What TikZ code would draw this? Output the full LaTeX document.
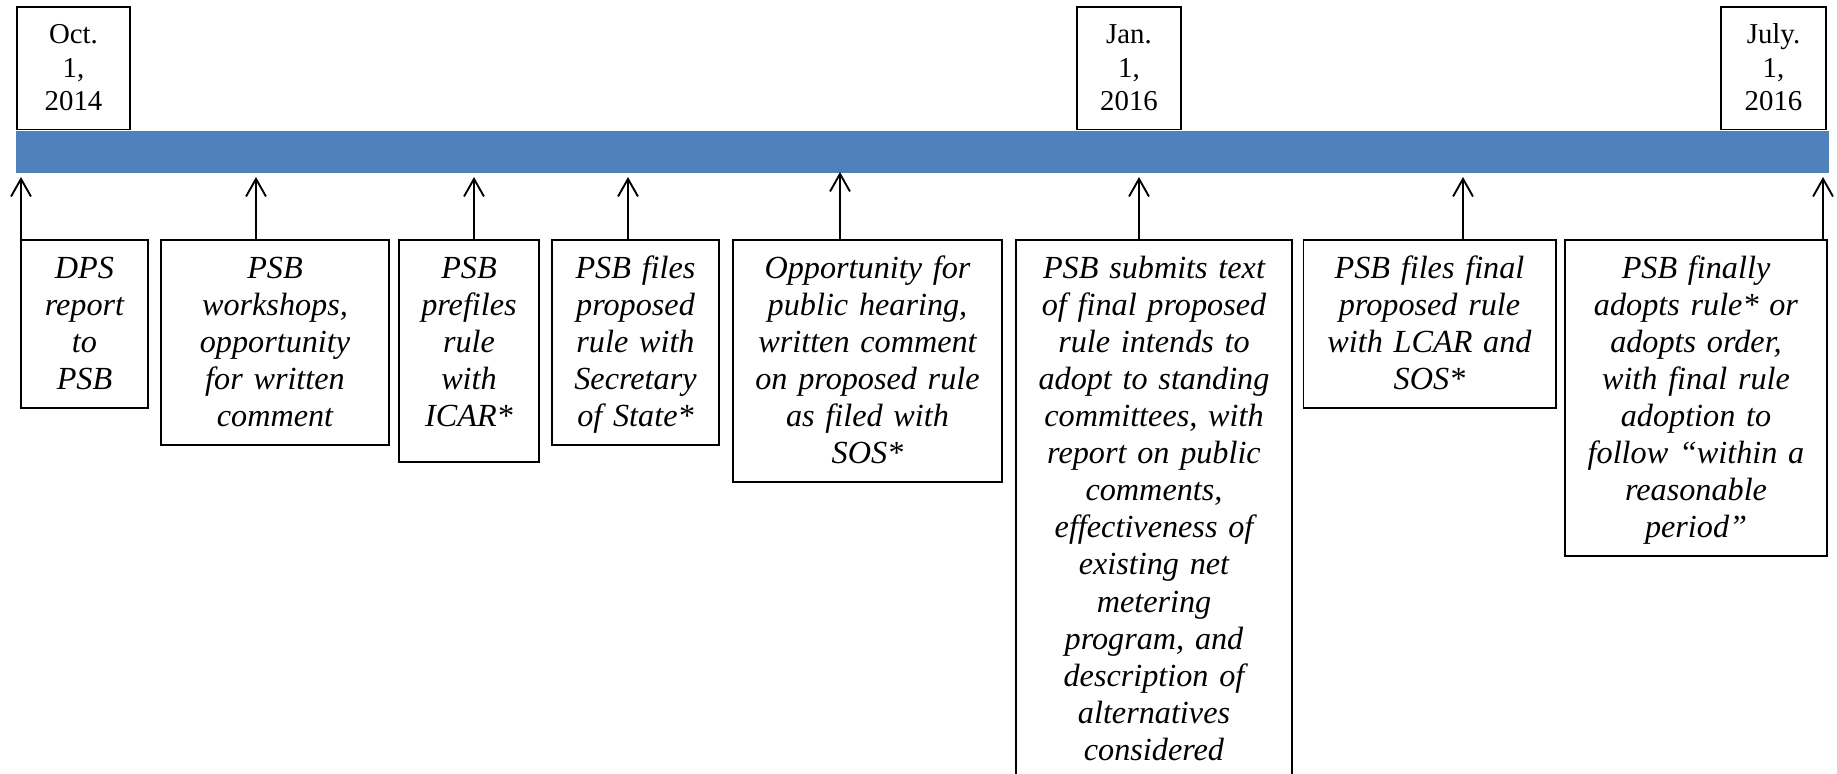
\documentclass[tikz,border=0pt]{standalone}
\usepackage{fontspec}
\setmainfont{Liberation Serif}
\usepackage{tikz}
\usetikzlibrary{arrows.meta}
\definecolor{barblue}{RGB}{79,129,189}
\tikzset{
datebox/.style={draw, line width=0.8pt, anchor=north, align=center, inner xsep=0pt, inner ysep=3.84pt, font=\fontsize{12.3}{14.2}\selectfont, text height=11.96pt, execute at end node=\strut}, % date boxes above the bar
event/.style={draw, line width=0.8pt, anchor=north, align=center, inner xsep=0pt, inner ysep=2.96pt, font=\itshape\fontsize{13.75}{15.8}\selectfont, text height=13.64pt, execute at end node=\strut}, % step boxes below the bar
tip/.style={-{Straight Barb[length=7.5pt,width=8.5pt]}, line width=0.8pt},
}

\begin{document}
\begin{tikzpicture}[x=0.4268pt, y=-0.4268pt]
    \useasboundingbox (0,0) rectangle (1837,773);
    \clip (0,0) rectangle (1837,773);
    \node[fill=barblue, minimum width=773.4pt, minimum height=17.9pt, inner sep=0pt, anchor=north west] at (16,131) (bar) {};
    \node[datebox, text width=48.2pt] at (73.5,6) (d1) {Oct.\\1,\\2014};
    \node[datebox, text width=44.4pt] at (1129,6) (d2) {Jan.\\1,\\2016};
    \node[datebox, text width=44.8pt] at (1773.5,6) (d3) {July.\\1,\\2016};
    \node[event, text width=54.2pt] at (84.5,239) (e1) {DPS\\report\\to\\PSB};
    \node[event, text width=97.3pt] at (275,239) (e2) {PSB\\workshops,\\opportunity\\for written\\comment};
    \node[event, text width=59.8pt, inner ysep=10.2pt, text height=6.4pt] at (469,239) (e3) {PSB\\prefiles\\rule\\with\\ICAR*};
    \node[event, text width=71.3pt] at (635.5,239) (e4) {PSB files\\proposed\\rule with\\Secretary\\of State*};
    \node[event, text width=114.8pt] at (867.5,239) (e5) {Opportunity for\\public hearing,\\written comment\\on proposed rule\\as filed with\\SOS*};
    \node[event, text width=117.8pt] at (1154,239) (e6) {PSB submits text\\of final proposed\\rule intends to\\adopt to standing\\committees, with\\report on public\\comments,\\effectiveness of\\existing net\\metering\\program, and\\description of\\alternatives\\considered};
    \node[event, text width=107.6pt] at (1429.5,239) (e7) {PSB files final\\proposed rule\\with LCAR and\\SOS*};
    \node[event, text width=111.8pt] at (1696,239) (e8) {PSB finally\\adopts rule* or\\adopts order,\\with final rule\\adoption to\\follow “within a\\reasonable\\period”};
    % arrow tips under the bar
    \coordinate (a1) at (21,177);
    \coordinate (a2) at (256,177);
    \coordinate (a3) at (474,177);
    \coordinate (a4) at (628,177);
    \coordinate (a5) at (840,172);
    \coordinate (a6) at (1139,177);
    \coordinate (a7) at (1463,177);
    \coordinate (a8) at (1823,177);
    \draw[tip] (a1 |- e1.north) -- (a1);
    \draw[tip] (a2 |- e2.north) -- (a2);
    \draw[tip] (a3 |- e3.north) -- (a3);
    \draw[tip] (a4 |- e4.north) -- (a4);
    \draw[tip] (a5 |- e5.north) -- (a5);
    \draw[tip] (a6 |- e6.north) -- (a6);
    \draw[tip] (a7 |- e7.north) -- (a7);
    \draw[tip] (a8 |- e8.north) -- (a8);
\end{tikzpicture}
\end{document}
